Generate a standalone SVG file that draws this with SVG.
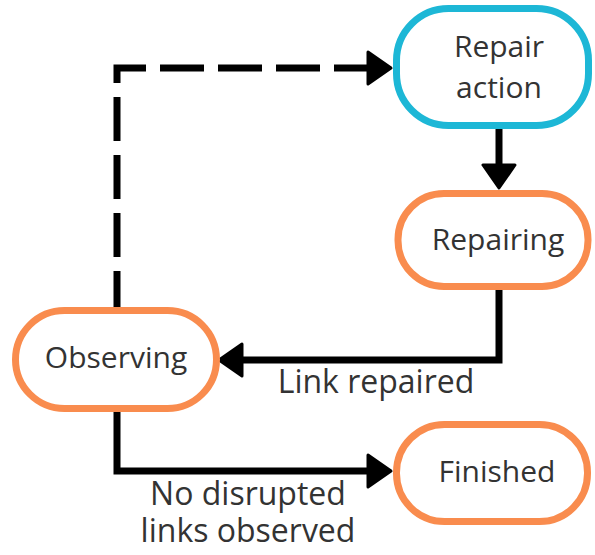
<svg xmlns="http://www.w3.org/2000/svg" width="595" height="555" viewBox="0 0 595 555">
<defs>
<style>
.node{fill:#ffffff;stroke-width:7}
.orange{stroke:#F98C4E}
.blue{stroke:#1DB7D6}
.t{font-family:"Open Sans","Noto Sans","Liberation Sans",sans-serif;font-size:30px;fill:#333333;text-anchor:middle}
.lbl{font-size:32px}
.edge{fill:none;stroke:#000000;stroke-width:7;stroke-linejoin:miter}
.dash{stroke-dasharray:44 14}
.head{fill:#000000;stroke:#000000;stroke-width:3;stroke-linejoin:round}
</style>
</defs>
<rect width="595" height="555" fill="#ffffff"/>
<g id="connectors">
<path class="edge" d="M499,128 V166"/>
<polygon class="head" points="483,165 515,165 499,188"/>
<path class="edge" d="M499,290 V360 H242"/>
<polygon class="head" points="242,344 242,376 219,360"/>
<path class="edge" d="M117,412 V471 H368"/>
<polygon class="head" points="368,455 368,487 391,471"/>
<path class="edge dash" d="M117,307 V68 H368" stroke-dashoffset="8"/>
<polygon class="head" points="368,52 368,84 391,68"/>
<text class="t lbl" x="376" y="393">Link repaired</text>
<text class="t lbl" x="248" y="505">No disrupted<tspan x="248" y="542">links observed</tspan></text>
</g>
<g id="repair-action">
<rect class="node blue" x="396.5" y="8.5" width="192" height="117" rx="52"/>
<text class="t" x="499" y="57">Repair<tspan x="499" y="98">action</tspan></text>
</g>
<g id="repairing">
<rect class="node orange" x="398" y="193.5" width="190" height="93" rx="46"/>
<text class="t" x="498" y="250">Repairing</text>
</g>
<g id="observing">
<rect class="node orange" x="15.5" y="310.5" width="201" height="98" rx="49"/>
<text class="t" x="116" y="368">Observing</text>
</g>
<g id="finished">
<rect class="node orange" x="396.5" y="424.5" width="191" height="97" rx="48"/>
<text class="t" x="497" y="482">Finished</text>
</g>
</svg>
